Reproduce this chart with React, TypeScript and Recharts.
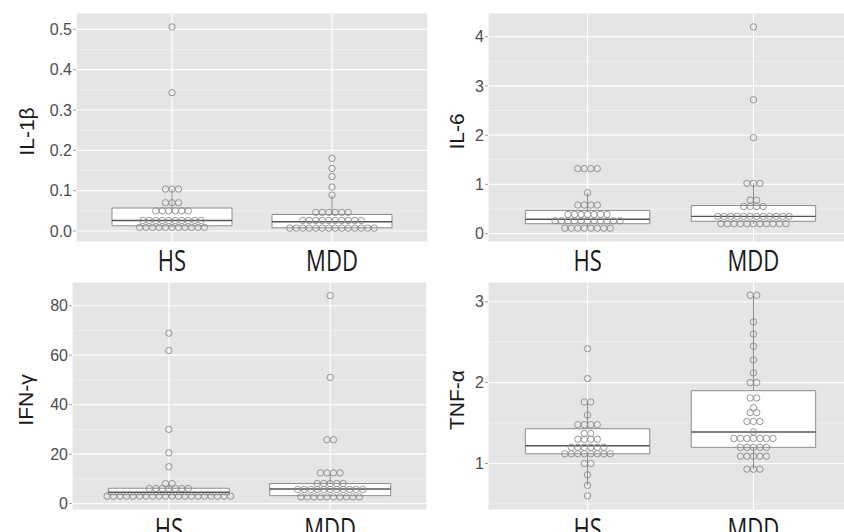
import {
  ScatterChart,
  Scatter,
  XAxis,
  YAxis,
  CartesianGrid,
  ReferenceArea,
  ReferenceLine,
} from 'recharts';

const GROUPS = ['HS', 'MDD'];

// IL-1β
const il1bHS = [
  0.506, 0.343, 0.104, 0.104, 0.104, 0.07, 0.07, 0.07,
  0.05, 0.05, 0.05, 0.05, 0.05, 0.05,
  0.026, 0.026, 0.026, 0.026, 0.026, 0.026, 0.026, 0.026, 0.026, 0.026,
  0.009, 0.009, 0.009, 0.009, 0.009, 0.009, 0.009, 0.009, 0.009, 0.009, 0.009,
];
const il1bMDD = [
  0.18, 0.155, 0.135, 0.109, 0.089,
  0.046, 0.046, 0.046, 0.046, 0.046, 0.046,
  0.026, 0.026, 0.026, 0.026, 0.026, 0.026, 0.026, 0.026, 0.026, 0.026,
  0.007, 0.007, 0.007, 0.007, 0.007, 0.007, 0.007, 0.007, 0.007, 0.007, 0.007, 0.007, 0.007, 0.007,
];
// [lower whisker, q1, median, q3, upper whisker]
const il1bBoxHS = [0.009, 0.013, 0.026, 0.057, 0.104];
const il1bBoxMDD = [0.007, 0.008, 0.023, 0.041, 0.089];

// IL-6
const il6HS = [
  1.32, 1.32, 1.32, 1.32, 0.83, 0.58, 0.58, 0.58, 0.58,
  0.39, 0.39, 0.39, 0.39, 0.39, 0.39, 0.39,
  0.26, 0.26, 0.26, 0.26, 0.26, 0.26, 0.26, 0.26, 0.26, 0.26, 0.26,
  0.11, 0.11, 0.11, 0.11, 0.11, 0.11, 0.11, 0.11,
];
const il6MDD = [
  4.2, 2.72, 1.95, 1.02, 1.02, 1.02, 0.68, 0.68, 0.55, 0.55, 0.55, 0.55,
  0.35, 0.35, 0.35, 0.35, 0.35, 0.35, 0.35, 0.35, 0.35, 0.35, 0.35, 0.35,
  0.2, 0.2, 0.2, 0.2, 0.2, 0.2, 0.2, 0.2, 0.2, 0.2, 0.2,
];
const il6BoxHS = [0.11, 0.2, 0.29, 0.47, 0.83];
const il6BoxMDD = [0.2, 0.25, 0.35, 0.57, 1.02];

// IFN-γ
const ifnHS = [
  68.9, 61.9, 30.0, 20.5, 14.9, 8.1, 8.1,
  6.1, 6.1, 6.1, 6.1, 6.1, 6.1, 6.1,
  3.0, 3.0, 3.0, 3.0, 3.0, 3.0, 3.0, 3.0, 3.0, 3.0,
  3.0, 3.0, 3.0, 3.0, 3.0, 3.0, 3.0, 3.0, 3.0, 3.0,
];
const ifnMDD = [
  84.1, 51.0, 25.8, 25.8, 12.4, 12.4, 12.4, 12.4,
  8.1, 8.1, 8.1, 8.1, 8.1,
  5.7, 5.7, 5.7, 5.7, 5.7, 5.7, 5.7, 5.7, 5.7, 5.7, 5.7,
  2.7, 2.7, 2.7, 2.7, 2.7, 2.7, 2.7, 2.7, 2.7, 2.7,
];
const ifnBoxHS = [3.0, 3.6, 4.6, 6.2, 8.1];
const ifnBoxMDD = [2.7, 3.2, 5.9, 8.1, 12.4];

// TNF-α
const tnfHS = [
  2.42, 2.05, 1.76, 1.76, 1.6, 1.48, 1.48, 1.48, 1.48, 1.37, 1.37,
  1.3, 1.3, 1.3, 1.3, 1.2, 1.2, 1.2, 1.2, 1.2, 1.2,
  1.12, 1.12, 1.12, 1.12, 1.12, 1.12, 1.12, 1.12,
  1.0, 1.0, 0.86, 0.73, 0.6,
];
const tnfMDD = [
  3.08, 3.08, 2.75, 2.6, 2.45, 2.28, 2.12, 2.0, 2.0, 1.81, 1.81, 1.69,
  1.63, 1.63, 1.52, 1.52, 1.52, 1.39,
  1.31, 1.31, 1.31, 1.31, 1.31, 1.31, 1.31,
  1.2, 1.2, 1.2, 1.2, 1.2, 1.09, 1.09, 1.09, 1.09, 1.09,
  0.93, 0.93, 0.93,
];
const tnfBoxHS = [0.73, 1.12, 1.22, 1.43, 1.76];
const tnfBoxMDD = [0.93, 1.2, 1.39, 1.9, 3.08];

const YW = 60;
const MT = 2;
const XH = 45;
const DOT_PX = 6.5;
const BOX_HALF = 0.375;
const X_DOMAIN = [0.4, 2.6];

const panels = [
  {
    title: 'IL-1β', hs: il1bHS, mdd: il1bMDD, boxes: [il1bBoxHS, il1bBoxMDD],
    domain: [-0.0273, 0.5405], ticks: [0, 0.1, 0.2, 0.3, 0.4, 0.5],
    minor: [0.05, 0.15, 0.25, 0.35, 0.45], digits: 1,
    left: 76, top: 13, width: 352, height: 229, titleX: 33.5,
  },
  {
    title: 'IL-6', hs: il6HS, mdd: il6MDD, boxes: [il6BoxHS, il6BoxMDD],
    domain: [-0.171, 4.482], ticks: [0, 1, 2, 3, 4],
    minor: [0.5, 1.5, 2.5, 3.5], digits: 0,
    left: 488, top: 13, width: 365, height: 229, titleX: 464,
  },
  {
    title: 'IFN-γ', hs: ifnHS, mdd: ifnMDD, boxes: [ifnBoxHS, ifnBoxMDD],
    domain: [-2.6, 89.6], ticks: [0, 20, 40, 60, 80],
    minor: [10, 30, 50, 70], digits: 0,
    left: 72, top: 282, width: 355, height: 228, titleX: 33,
  },
  {
    title: 'TNF-α', hs: tnfHS, mdd: tnfMDD, boxes: [tnfBoxHS, tnfBoxMDD],
    domain: [0.425, 3.244], ticks: [1, 2, 3],
    minor: [0.5, 1.5, 2.5], digits: 0,
    left: 488, top: 282, width: 365, height: 228, titleX: 464,
  },
];

function stackDots(values: number[], group: number, step: number) {
  const rows = new Map<number, number>();
  values.forEach((v) => rows.set(v, (rows.get(v) || 0) + 1));
  const pts: { x: number; y: number }[] = [];
  rows.forEach((n, v) => {
    for (let i = 0; i < n; i++) pts.push({ x: group + (i - (n - 1) / 2) * step, y: v });
  });
  return pts;
}

const XTick = (props: any) => {
  const { x, y, payload } = props;
  return (
    <text
      transform={`translate(${x},${y + 29}) scale(0.76,1)`}
      textAnchor="middle"
      fontSize={29}
      fontFamily="'Open Sans', 'Noto Sans', sans-serif"
      fill="#1a1a1a"
    >
      {GROUPS[payload.value - 1]}
    </text>
  );
};

const Dot = (props: any) => (
  <circle cx={props.cx} cy={props.cy} r={3.2} fill="none" stroke="#8a8a8a" strokeWidth={0.9} />
);

function Panel({ p }: { p: (typeof panels)[number] }) {
  const step = DOT_PX / (p.width / (X_DOMAIN[1] - X_DOMAIN[0]));
  const dots = [...stackDots(p.hs, 1, step), ...stackDots(p.mdd, 2, step)];
  return (
    <div style={{ position: 'absolute', left: p.left - YW, top: p.top - MT }}>
      <ScatterChart
        width={YW + p.width + 2}
        height={MT + p.height + XH}
        margin={{ top: MT, right: 2, bottom: 0, left: 0 }}
      >
        <CartesianGrid fill="#e5e5e5" stroke="#ffffff" strokeWidth={1.2} />
        <CartesianGrid horizontalValues={p.minor} vertical={false} stroke="#f6f6f6" strokeWidth={0.6} />
        <XAxis
          type="number"
          dataKey="x"
          domain={X_DOMAIN}
          ticks={[1, 2]}
          interval={0}
          allowDataOverflow
          axisLine={false}
          tickLine={false}
          tickSize={0}
          tickMargin={0}
          height={XH}
          tick={<XTick />}
        />
        <YAxis
          type="number"
          dataKey="y"
          domain={p.domain}
          ticks={p.ticks}
          interval={0}
          allowDataOverflow
          width={YW}
          axisLine={false}
          tickSize={3}
          tickMargin={1}
          tickLine={{ stroke: '#a0a0a0' }}
          tickFormatter={(v: number) => v.toFixed(p.digits)}
          tick={{ fontSize: 16, fill: '#4d4d4d', fontFamily: "'Liberation Sans', Arial, sans-serif" }}
        />
        {p.boxes.map((b, i) => (
          <ReferenceArea
            key={`box${i}`}
            x1={i + 1 - BOX_HALF}
            x2={i + 1 + BOX_HALF}
            y1={b[1]}
            y2={b[3]}
            fill="#ffffff"
            fillOpacity={1}
            stroke="#8c8c8c"
            strokeWidth={1}
          />
        ))}
        {p.boxes.map((b, i) => (
          <ReferenceLine
            key={`wu${i}`}
            segment={[{ x: i + 1, y: b[3] }, { x: i + 1, y: b[4] }]}
            stroke="#8c8c8c"
            strokeWidth={1}
          />
        ))}
        {p.boxes.map((b, i) => (
          <ReferenceLine
            key={`wl${i}`}
            segment={[{ x: i + 1, y: b[0] }, { x: i + 1, y: b[1] }]}
            stroke="#8c8c8c"
            strokeWidth={1}
          />
        ))}
        {p.boxes.map((b, i) => (
          <ReferenceLine
            key={`med${i}`}
            segment={[{ x: i + 1 - BOX_HALF, y: b[2] }, { x: i + 1 + BOX_HALF, y: b[2] }]}
            stroke="#555555"
            strokeWidth={1.4}
          />
        ))}
        <Scatter data={dots} shape={<Dot />} isAnimationActive={false} />
      </ScatterChart>
    </div>
  );
}

export default function App() {
  return (
    <div
      style={{
        position: 'absolute',
        left: 0,
        top: 0,
        width: 844,
        height: 532,
        overflow: 'hidden',
        background: '#ffffff',
        fontFamily: "'Liberation Sans', Arial, sans-serif",
      }}
    >
      {panels.map((p) => (
        <Panel key={p.title} p={p} />
      ))}
      <svg width={844} height={532} style={{ position: 'absolute', left: 0, top: 0, pointerEvents: 'none' }}>
        {panels.map((p) => (
          <text
            key={p.title}
            transform={`translate(${p.titleX},${p.top + p.height / 2 + 4}) rotate(-90)`}
            textAnchor="middle"
            fontSize={21}
            fontFamily="'Liberation Sans', Arial, sans-serif"
            fill="#1a1a1a"
          >
            {p.title}
          </text>
        ))}
      </svg>
    </div>
  );
}
